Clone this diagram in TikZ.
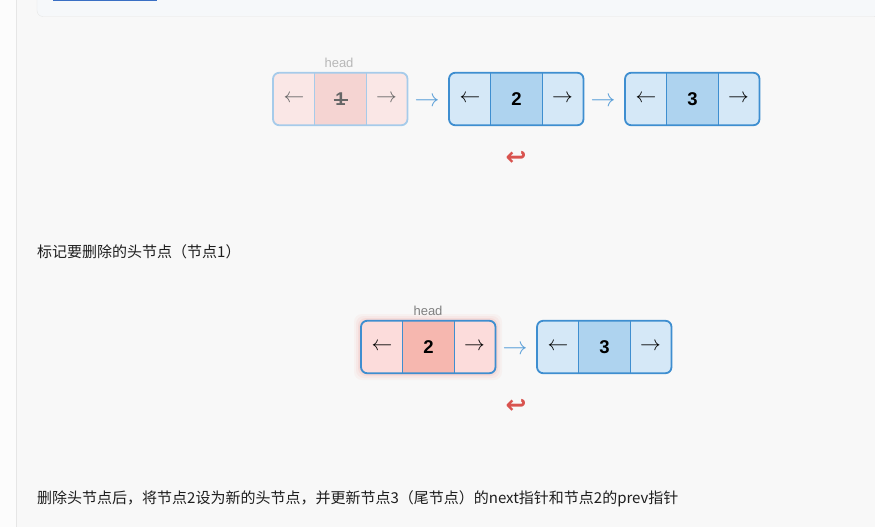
\documentclass[tikz,border=0pt]{standalone}
\usepackage{fontspec}
\setmainfont{Liberation Sans}
\newfontfamily\cjk{Noto Sans CJK SC}
\newfontfamily\djv{DejaVu Sans}
\usetikzlibrary{backgrounds,calc}
\definecolor{pagebg}{HTML}{F8F8F8}
\definecolor{stripbg}{HTML}{FCFCFC}
\definecolor{rulegray}{HTML}{E6E6E6}
\definecolor{panelbg}{HTML}{F6F8FA}
\definecolor{tabblue}{HTML}{3A6FC4}
\definecolor{nodeborder}{HTML}{3E8ED0}
\definecolor{sideblue}{HTML}{D5E8F7}
\definecolor{midblue}{HTML}{AED3EF}
\definecolor{fadeborder}{HTML}{A6CBEA}
\definecolor{fadeside}{HTML}{FAE7E6}
\definecolor{fademid}{HTML}{F5D4D2}
\definecolor{pinkside}{HTML}{FCDCDB}
\definecolor{pinkmid}{HTML}{F6B7AF}
\definecolor{glowred}{HTML}{F08A80}
\definecolor{linkblue}{HTML}{5A9FD8}
\definecolor{backred}{HTML}{D9534F}
\definecolor{txt}{HTML}{1E1E1E}
\tikzset{
  x=1pt, y=-1pt,
  sidecell/.style={minimum width=41.5pt, minimum height=52pt, inner sep=0pt, font=\fontsize{22}{22}\selectfont},
  midcell/.style={minimum width=51pt, minimum height=52pt, inner sep=0pt, font=\fontsize{18.5}{18.5}\selectfont\bfseries},
  divline/.style={line width=0.8pt},
  boxborder/.style={line width=1.8pt, rounded corners=6pt},
  link/.style={text=linkblue, font=\fontsize{25}{25}\selectfont, inner sep=0pt},
  backarrow/.style={text=backred, font=\djv\bfseries\fontsize{25}{25}\selectfont, inner sep=0pt},
  headlabel/.style={font=\fontsize{13}{13}\selectfont, inner sep=0pt},
  caption/.style={font=\cjk\fontsize{15}{15}\selectfont, text=txt, anchor=west, inner sep=0pt},
}
% #1 name, #2 left x, #3 top y, #4 value, #5 side fill, #6 mid fill, #7 border, #8 text colour
\newcommand{\mklistnode}[8]{%
  \node[sidecell, text=#8] (#1l) at ({#2+21},{#3+26}) {$\leftarrow$};
  \node[midcell, fill=#6, text=#8] (#1c) at ({#2+67.5},{#3+26}) {#4};
  \node[sidecell, text=#8] (#1r) at ({#2+113.5},{#3+26}) {$\rightarrow$};
  \begin{scope}[on background layer]
    \fill[#5, rounded corners=6pt] (#1l.north west) rectangle (#1r.south east);
  \end{scope}
  \draw[divline, #7] (#1c.north west) -- (#1c.south west);
  \draw[divline, #7] (#1c.north east) -- (#1c.south east);
  \draw[boxborder, #7] (#1l.north west) rectangle (#1r.south east);
}
\begin{document}
\begin{tikzpicture}
\useasboundingbox (0,0) rectangle (875,527);
\begin{scope}[on background layer]
\fill[pagebg] (0,0) rectangle (875,527);
\fill[stripbg] (0,0) rectangle (16,527);
\draw[rulegray, line width=1pt] (16.5,0) -- (16.5,527);
\draw[rulegray, fill=panelbg, rounded corners=6pt] (37,-8) rectangle (880,16.5);
\draw[tabblue, line width=2pt] (53,0) -- (157,0);
\foreach \g/\o in {7/0.06,5/0.08,3/0.12,1.5/0.16}{
  \fill[glowred, opacity=\o, rounded corners=8pt] ({361-\g},{321-\g}) rectangle ({495+\g},{373+\g});
}
\end{scope}

% ---------- step 1 ----------
\mklistnode{a}{273}{73}{1}{fadeside}{fademid}{fadeborder}{black!60}
\draw[black!60, line width=1.2pt] ($(ac.center)+(-7,1)$) -- ($(ac.center)+(7,1)$);
\node[headlabel, text=black!28] (ahead) at (339,63) {head};
\mklistnode{b}{449}{73}{2}{sideblue}{midblue}{nodeborder}{black}
\mklistnode{c}{625}{73}{3}{sideblue}{midblue}{nodeborder}{black}
\node[link] (ab) at (427,102) {$\rightarrow$};
\node[link] (bc) at (603,102) {$\rightarrow$};
\node[backarrow] (back1) at (516,158) {↩};
\node[caption] (cap1) at (37,252) {标记要删除的头节点（节点1）};

% ---------- step 2 ----------
\mklistnode{d}{361}{321}{2}{pinkside}{pinkmid}{nodeborder}{black}
\node[headlabel, text=black!50] (dhead) at (428,311) {head};
\mklistnode{e}{537}{321}{3}{sideblue}{midblue}{nodeborder}{black}
\node[link] (de) at (515,350) {$\rightarrow$};
\node[backarrow] (back2) at (516,406) {↩};
\node[caption] (cap2) at (37,499) {删除头节点后，将节点2设为新的头节点，并更新节点3（尾节点）的next指针和节点2的prev指针};
\end{tikzpicture}
\end{document}
